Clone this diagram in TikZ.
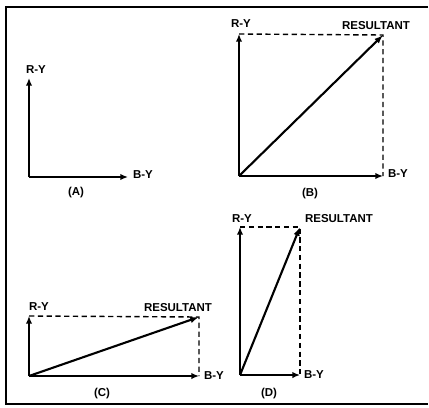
\documentclass[tikz,border=0pt]{standalone}
\usepackage{fontspec}
\setmainfont{Liberation Sans}
\usetikzlibrary{arrows.meta}

\begin{document}
\begin{tikzpicture}[x=0.03cm,y=-0.03cm, every node/.style={font=\bfseries\fontsize{9.8}{10}\selectfont,inner sep=0pt}, axis/.style={-{Latex[length=6.5pt,width=5.5pt]},line width=2.2pt}, res/.style={-{Latex[length=7.5pt,width=5.5pt]},line width=1.8pt}, guide/.style={line width=1.2pt,dash pattern=on 4.5pt off 3pt}]
\useasboundingbox (0,0) rectangle (429,407);
\draw[line width=1.8pt] (428,7) -- (6,7) -- (6,404) -- (428,404);
% (A)
\coordinate (oA) at (29,177); \coordinate (yA) at (29,78); \coordinate (xA) at (128,177);
\draw[axis] (oA) -- (yA); \draw[axis] (oA) -- (xA);
\node (ryA) at (36,70) {R-Y};
\node (byA) at (143,175) {B-Y};
\node (capA) at (76,193) {(A)};
% (B)
\coordinate (oB) at (239,176); \coordinate (yB) at (239,34); \coordinate (xB) at (383,176); \coordinate (rB) at (383,35);
\draw[guide] (yB) -- (rB) -- (xB);
\draw[axis] (oB) -- (yB); \draw[axis] (oB) -- (xB);
\draw[res] (oB) -- (rB);
\node (ryB) at (241,24) {R-Y};
\node (resB) at (376,26) {RESULTANT};
\node (byB) at (398,174) {B-Y};
\node (capB) at (310,194) {(B)};
% (C)
\coordinate (oC) at (29,376); \coordinate (yC) at (29,316); \coordinate (xC) at (199,376); \coordinate (rC) at (199,317);
\draw[guide] (yC) -- (rC) -- (xC);
\draw[axis] (oC) -- (yC); \draw[axis] (oC) -- (xC);
\draw[res] (oC) -- (rC);
\node (ryC) at (39,307) {R-Y};
\node (resC) at (178,308) {RESULTANT};
\node (byC) at (214,376) {B-Y};
\node (capC) at (102,394) {(C)};
% (D)
\coordinate (oD) at (240,375); \coordinate (yD) at (240,227); \coordinate (xD) at (300,375); \coordinate (rD) at (300,227);
\draw[guide] (yD) -- (rD) -- (xD);
\draw[axis] (oD) -- (yD); \draw[axis] (oD) -- (xD);
\draw[res] (oD) -- (rD);
\node (ryD) at (242,219) {R-Y};
\node (resD) at (339,219) {RESULTANT};
\node (byD) at (314,375) {B-Y};
\node (capD) at (269,394) {(D)};
\end{tikzpicture}
\end{document}
